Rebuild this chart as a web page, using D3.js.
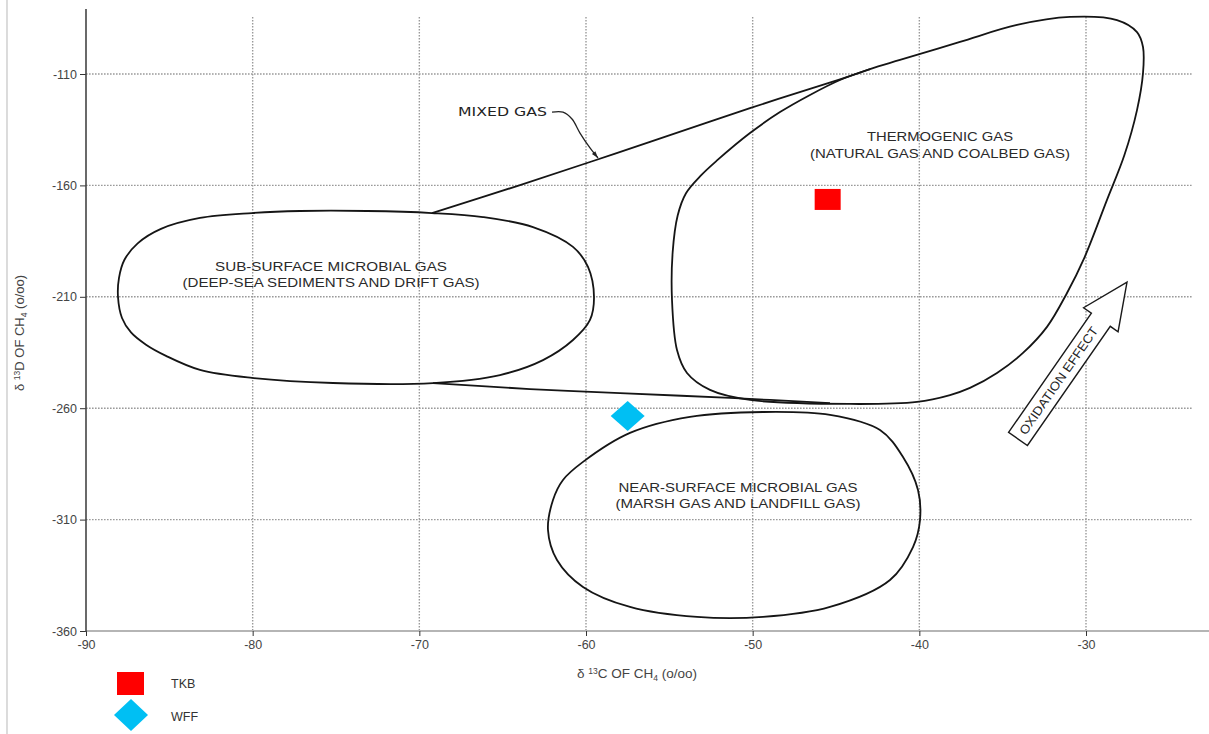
<!DOCTYPE html>
<html>
<head>
<meta charset="utf-8">
<script src="https://cdn.jsdelivr.net/npm/d3@7"></script>
<style>
  html, body { margin: 0; padding: 0; background: #fff; }
  svg { display: block; font-family: "Liberation Sans", Arial, sans-serif; }
</style>
</head>
<body>
<svg id="chart" width="1209" height="734"></svg>
<script>
// Axis ticks (per mil)
const xTicks = [-90, -80, -70, -60, -50, -40, -30];
const yTicks = [-360, -310, -260, -210, -160, -110];
const xGrid = [-80, -70, -60, -50, -40, -30];
const yGrid = [-310, -260, -210, -160, -110];

// Field boundaries as [δ13C, δD] pairs
const subSurfaceField = [
  [-88.08, -210.1], [-87.84, -219.5], [-87.30, -226.0], [-86.40, -231.5], [-85.20, -236.5],
  [-83.16, -242.8], [-80.04, -246.4], [-75.18, -248.7], [-69.18, -248.7], [-65.16, -245.1],
  [-62.58, -238.4], [-60.78, -229.4], [-59.76, -220.4], [-59.52, -210.1], [-59.88, -196.6],
  [-60.78, -187.6], [-63.18, -178.7], [-66.18, -174.2], [-69.24, -172.4], [-73.14, -171.5],
  [-77.16, -171.5], [-80.04, -172.4], [-83.16, -174.6], [-85.50, -179.5], [-86.90, -186.0],
  [-87.70, -193.5], [-88.02, -201.5]
];
const nearSurfaceField = [
  [-60.18, -284.1], [-57.36, -271.1], [-53.76, -263.9], [-49.38, -261.7], [-45.36, -263.0],
  [-42.36, -269.8], [-40.98, -281.9], [-40.08, -296.7], [-39.96, -310.2], [-40.38, -322.3],
  [-41.76, -337.1], [-45.36, -349.2], [-49.38, -353.7], [-53.34, -353.7], [-57.36, -349.2],
  [-60.18, -340.2], [-61.74, -328.1], [-62.28, -314.7], [-61.98, -301.2], [-61.38, -292.2]
];
const thermogenicField = [
  [-46.56, -119.4], [-44.76, -112.7], [-42.96, -107.8], [-41.16, -103.7],
  [-37.56, -95.6], [-34.14, -88.0], [-30.96, -84.4], [-28.14, -85.8], [-26.94, -91.2],
  [-26.58, -97.9], [-26.58, -109.6], [-26.94, -126.2], [-27.70, -146.5], [-28.74, -166.5],
  [-30.10, -192.5], [-31.14, -208.3], [-32.34, -223.5], [-33.78, -235.2], [-35.34, -244.2],
  [-36.96, -250.9], [-38.16, -254.1], [-40.14, -257.2], [-44.16, -258.1], [-50.16, -256.3],
  [-52.56, -251.8], [-53.94, -244.2], [-54.54, -233.9], [-54.84, -211.4], [-54.80, -190.0],
  [-54.50, -173.5], [-54.00, -163.5], [-53.10, -155.5], [-52.14, -148.8], [-50.16, -136.5],
  [-48.36, -127.1]
];
// Mixed-gas envelope between microbial and thermogenic fields
const mixedUpper = [
  [-69.24, -172.4], [-64.14, -160.3], [-59.76, -149.5], [-56.16, -140.5],
  [-50.16, -125.3], [-44.76, -112.4], [-42.96, -107.8]
];
const mixedLower = [
  [-69.18, -248.7], [-63.36, -251.4], [-57.96, -253.2], [-51.36, -255.4], [-45.36, -257.7]
];
const mixedLeader = [
  [-62.04, -127.1], [-61.38, -127.1], [-60.84, -130.2], [-60.36, -136.5], [-59.76, -143.2], [-59.28, -147.7]
];
// Oxidation trend arrow: tail and tip
const oxidationArrow = [[-34.08, -273.8], [-27.54, -203.4]];

// Samples
const sampleNames = ["TKB", "WFF"];
const sampleC = [-45.5, -57.5];
const sampleD = [-166.3, -263.5];
const sampleColors = ["#ff0000", "#00bff3"];

// Field labels
const fieldLabels = [
  { lines: ["THERMOGENIC GAS", "(NATURAL GAS AND COALBED GAS)"], at: [-38.76, -140.1], widths: [146, 260] },
  { lines: ["SUB-SURFACE MICROBIAL GAS", "(DEEP-SEA SEDIMENTS AND DRIFT GAS)"], at: [-75.3, -198.4], widths: [232, 297] },
  { lines: ["NEAR-SURFACE MICROBIAL GAS", "(MARSH GAS AND LANDFILL GAS)"], at: [-50.88, -297.6], widths: [239, 245] }
];

const svg = d3.select("#chart");
const W = 1209, H = 734;

const x = d3.scaleLinear().domain([-90, -30]).range([86, 1086]);
const y = d3.scaleLinear().domain([-360, -110]).range([631, 74]);

// Thin page border on the left
svg.append("line").attr("x1", 7).attr("x2", 7).attr("y1", 0).attr("y2", H)
  .attr("stroke", "#c4c4c4").attr("stroke-width", 1.2);

// Dotted grid
const grid = svg.append("g").attr("stroke", "#9a9a9a").attr("stroke-width", 1.4)
  .attr("stroke-dasharray", "1.6,1.4");
grid.selectAll(".vg").data(xGrid).join("line")
  .attr("x1", d => x(d)).attr("x2", d => x(d)).attr("y1", 17).attr("y2", 631);
grid.selectAll(".hg").data(yGrid).join("line")
  .attr("x1", 86).attr("x2", 1193).attr("y1", d => y(d)).attr("y2", d => y(d));

// Axes (plain hyphen minus signs)
const fmt = d => String(d);
const xAxis = d3.axisBottom(x).tickValues(xTicks).tickSize(5).tickPadding(4).tickFormat(fmt);
const yAxis = d3.axisLeft(y).tickValues(yTicks).tickSize(6).tickPadding(3).tickFormat(fmt);

svg.append("line").attr("x1", 86).attr("x2", W).attr("y1", 631).attr("y2", 631)
  .attr("stroke", "#b5b5b5").attr("stroke-width", 2.2);
const gx = svg.append("g").attr("transform", "translate(0,631)").call(xAxis);
gx.select(".domain").remove();
gx.selectAll(".tick line").attr("stroke", "#333");
gx.selectAll(".tick text").attr("fill", "#444").attr("font-size", 12.5)
  .attr("font-family", "Liberation Sans, Arial, sans-serif");

const gy = svg.append("g").attr("transform", "translate(86,0)").call(yAxis);
gy.select(".domain").remove();
gy.selectAll(".tick line").attr("stroke", "#333");
gy.selectAll(".tick text").attr("fill", "#444").attr("font-size", 12.5)
  .attr("font-family", "Liberation Sans, Arial, sans-serif");
svg.append("line").attr("x1", 86).attr("x2", 86).attr("y1", 9).attr("y2", 632)
  .attr("stroke", "#444").attr("stroke-width", 1.6);

// Axis titles
function isoTitle(sel, letter) {
  sel.append("tspan").text("δ ");
  sel.append("tspan").attr("font-size", 8.5).attr("dy", -4).text("13");
  sel.append("tspan").attr("dy", 4).text(letter + " OF CH");
  sel.append("tspan").attr("font-size", 8.5).attr("dy", 3).text("4");
  sel.append("tspan").attr("dy", -3).text(" (o/oo)");
}
isoTitle(svg.append("text").attr("x", 637).attr("y", 678).attr("text-anchor", "middle")
  .attr("font-size", 13.5).attr("fill", "#444"), "C");
isoTitle(svg.append("text").attr("transform", "translate(24,333) rotate(-90)")
  .attr("text-anchor", "middle").attr("font-size", 13).attr("fill", "#444"), "D");

// Field outlines
const closed = d3.line().x(d => x(d[0])).y(d => y(d[1])).curve(d3.curveCatmullRomClosed.alpha(0.5));
const open = d3.line().x(d => x(d[0])).y(d => y(d[1])).curve(d3.curveCatmullRom.alpha(0.5));
const outlines = svg.append("g").attr("fill", "none").attr("stroke", "#151515")
  .attr("stroke-width", 1.8).attr("stroke-linejoin", "round");
[subSurfaceField, nearSurfaceField, thermogenicField].forEach(f =>
  outlines.append("path").attr("d", closed(f)));
[mixedUpper, mixedLower].forEach(l => outlines.append("path").attr("d", open(l)));

// Mixed gas callout
svg.append("text").attr("x", x(-67.68)).attr("y", y(-127.1)).attr("dy", "0.35em")
  .attr("font-family", "DejaVu Sans, sans-serif")
  .attr("font-size", 12.5).attr("fill", "#222").attr("textLength", 89)
  .attr("lengthAdjust", "spacingAndGlyphs").text("MIXED  GAS");
svg.append("path").attr("d", open(mixedLeader)).attr("fill", "none")
  .attr("stroke", "#222").attr("stroke-width", 1.3);
{
  const a = mixedLeader[mixedLeader.length - 2], b = mixedLeader[mixedLeader.length - 1];
  const ang = Math.atan2(y(b[1]) - y(a[1]), x(b[0]) - x(a[0])) * 180 / Math.PI;
  svg.append("path").attr("d", "M0,0 L-7,-2.2 L-7,2.2 Z").attr("fill", "#222")
    .attr("transform", `translate(${x(b[0])},${y(b[1])}) rotate(${ang})`);
}

// Field labels
fieldLabels.forEach(lab => {
  lab.lines.forEach((t, i) => {
    svg.append("text").attr("x", x(lab.at[0])).attr("y", y(lab.at[1]) + i * 16.5)
      .attr("text-anchor", "middle").attr("font-size", 13.5).attr("fill", "#2a2a2a")
      .attr("textLength", lab.widths[i]).attr("lengthAdjust", "spacingAndGlyphs").text(t);
  });
});

// Oxidation effect arrow
{
  const [t0, t1] = oxidationArrow;
  const px0 = x(t0[0]), py0 = y(t0[1]), px1 = x(t1[0]), py1 = y(t1[1]);
  const L = Math.hypot(px1 - px0, py1 - py0);
  const ang = Math.atan2(py1 - py0, px1 - px0) * 180 / Math.PI;
  const hs = L * 0.76, sw = 11.5, hw = 21;
  const g = svg.append("g").attr("transform", `translate(${px0},${py0}) rotate(${ang})`);
  g.append("path")
    .attr("d", `M0,${-sw} L${hs},${-sw} L${hs},${-hw} L${L},0 L${hs},${hw} L${hs},${sw} L0,${sw} Z`)
    .attr("fill", "#fff").attr("stroke", "#1a1a1a").attr("stroke-width", 1.4)
    .attr("stroke-linejoin", "miter");
  g.append("text").attr("x", 7).attr("y", 0).attr("dy", "0.36em")
    .attr("font-size", 12.5).attr("fill", "#222").attr("textLength", 128)
    .attr("lengthAdjust", "spacingAndGlyphs").text("OXIDATION EFFECT");
}

// Sample markers
const samples = sampleNames.map((n, i) => ({ name: n, c: sampleC[i], d: sampleD[i], color: sampleColors[i] }));
svg.append("rect").attr("x", x(samples[0].c) - 13).attr("y", y(samples[0].d) - 10.5)
  .attr("width", 26).attr("height", 21).attr("fill", samples[0].color);
svg.append("path").attr("d", "M0,-15 L17,0 L0,15 L-17,0 Z")
  .attr("transform", `translate(${x(samples[1].c)},${y(samples[1].d)})`).attr("fill", samples[1].color);

// Legend
const lg = svg.append("g");
lg.append("rect").attr("x", 117).attr("y", 672).attr("width", 27).attr("height", 23).attr("fill", samples[0].color);
lg.append("path").attr("d", "M0,-16 L17,0 L0,16 L-17,0 Z").attr("transform", "translate(131,715)")
  .attr("fill", samples[1].color);
lg.selectAll(".lt").data(samples).join("text")
  .attr("x", 171).attr("y", (d, i) => 688 + i * 33).attr("font-size", 12.5).attr("fill", "#333")
  .text(d => d.name);
</script>
</body>
</html>
